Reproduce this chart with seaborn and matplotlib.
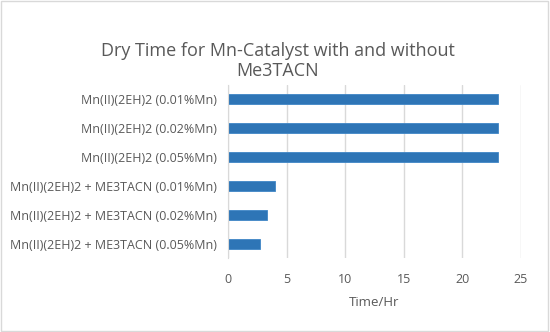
import matplotlib
matplotlib.use("Agg")
import matplotlib.pyplot as plt
import pandas as pd
import seaborn as sns

catalysts = [
    "Mn(II)(2EH)2 (0.01%Mn)",
    "Mn(II)(2EH)2 (0.02%Mn)",
    "Mn(II)(2EH)2 (0.05%Mn)",
    "Mn(II)(2EH)2 + ME3TACN (0.01%Mn)",
    "Mn(II)(2EH)2 + ME3TACN (0.02%Mn)",
    "Mn(II)(2EH)2 + ME3TACN (0.05%Mn)",
]
dry_time = [23, 23, 23, 4, 3.3, 2.7]
x_ticks = [0, 5, 10, 15, 20, 25]

df = pd.DataFrame({"catalyst": catalysts, "time": dry_time})

sns.set_style("white")
plt.rcParams["font.family"] = ["Open Sans", "DejaVu Sans"]
text_col = "#595959"

fig = plt.figure(figsize=(5.5, 3.32), dpi=100)
ax = fig.add_axes([228 / 550, 1 - 258 / 332, 293 / 550, 173 / 332])

sns.barplot(data=df, x="time", y="catalyst", orient="h", color="#2E75B6",
            saturation=1, width=0.35, edgecolor="#3f86c6", linewidth=0.6, ax=ax)

ax.set_xlim(0, 25)
ax.set_xticks(x_ticks)
ax.grid(axis="x", color="#D9D9D9", linewidth=1)
ax.set_axisbelow(True)
for s in ["top", "right", "bottom"]:
    ax.spines[s].set_visible(False)
ax.spines["left"].set_color("#D9D9D9")
ax.tick_params(axis="both", length=0, labelsize=9, colors=text_col, pad=8)
ax.tick_params(axis="x", pad=11)
ax.set_ylabel("")
ax.set_xlabel("Time/Hr", fontsize=9.5, color=text_col, labelpad=7)

fig.suptitle("Dry Time for Mn-Catalyst with and without\nMe3TACN",
             x=0.505, y=0.875, fontsize=13, color=text_col, linespacing=1.15)

border = plt.Rectangle((0.002, 0.003), 0.994, 0.994, transform=fig.transFigure,
                       fill=False, edgecolor="#D9D9D9", linewidth=1)
fig.patches.append(border)

fig.savefig("out.png", dpi=100)
